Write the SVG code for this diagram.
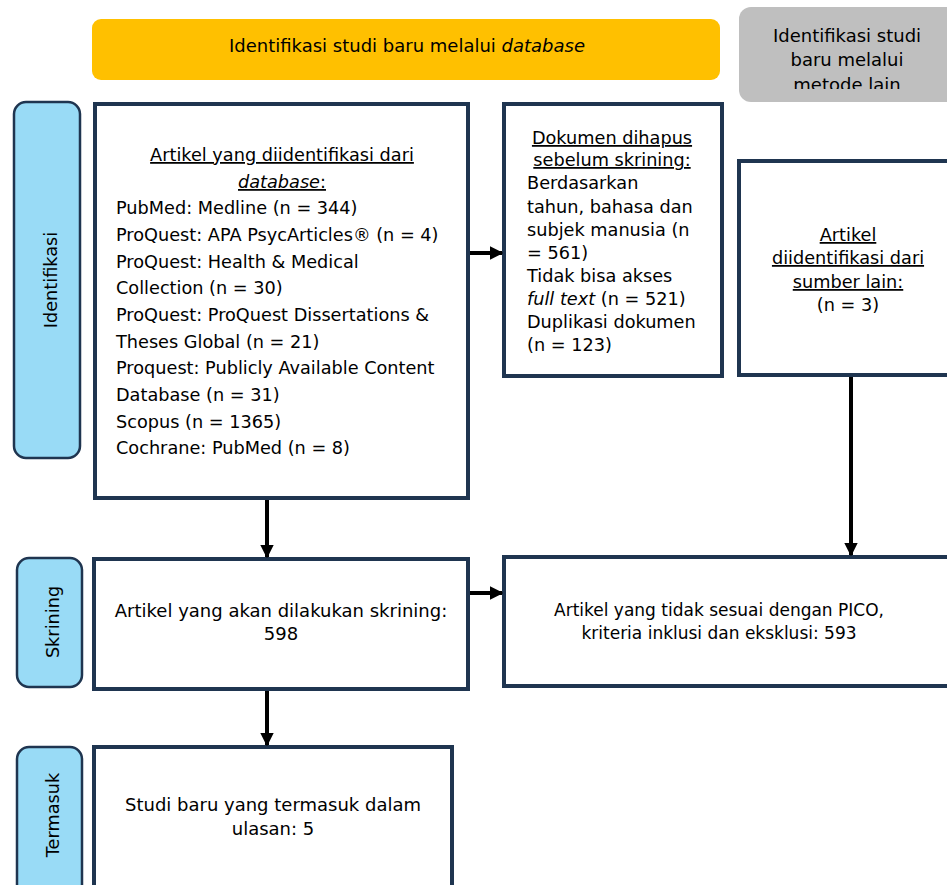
<svg xmlns="http://www.w3.org/2000/svg" width="947" height="885" viewBox="0 0 947 885">
<style>
text{font-family:"DejaVu Sans","Liberation Sans",sans-serif;font-size:17.7px;fill:#000}
.big{font-size:18px}
.box{fill:#fff;stroke:#1F3550;stroke-width:4}
.tab{fill:#99DBF6;stroke:#1F3550;stroke-width:2.5}
.c{text-anchor:middle}
.u{text-decoration:underline}
.con{stroke:#000;stroke-width:4;fill:none;marker-end:url(#ah)}
</style>
<defs>
<marker id="ah" viewBox="0 0 10 10" refX="9" refY="5" markerWidth="3.4" markerHeight="3.4" orient="auto" markerUnits="strokeWidth">
<path d="M0,0 L10,5 L0,10 Z" fill="#000"/>
</marker>
<clipPath id="gclip"><rect x="739" y="7" width="208" height="82"/></clipPath>
</defs>

<g id="header-db">
<rect x="92" y="19" width="628" height="61" rx="9" fill="#FFC000"/>
<text class="c big" x="407" y="52">Identifikasi studi baru melalui <tspan font-style="italic">database</tspan></text>
</g>

<g id="header-other">
<rect x="739" y="7" width="220" height="95" rx="12" fill="#BFBFBF"/>
<g clip-path="url(#gclip)">
<text class="c big" x="847" y="42">Identifikasi studi</text>
<text class="c big" x="847" y="66">baru melalui</text>
<text class="c big" x="847" y="91">metode lain</text>
</g>
</g>

<g id="tab-identifikasi">
<rect class="tab" x="14" y="102" width="66" height="356" rx="12"/>
<text class="c" transform="translate(57,280) rotate(-90)">Identifikasi</text>
</g>
<g id="tab-skrining">
<rect class="tab" x="17" y="558" width="65" height="129" rx="12"/>
<text class="c" transform="translate(59,622) rotate(-90)">Skrining</text>
</g>
<g id="tab-termasuk">
<rect class="tab" x="17" y="747" width="65" height="150" rx="12"/>
<text class="c" transform="translate(59,815) rotate(-90)">Termasuk</text>
</g>

<g id="box-database">
<rect class="box" x="95" y="104" width="373" height="394"/>
<text class="c u" x="282" y="161">Artikel yang diidentifikasi dari</text>
<text class="c u" x="282" y="188"><tspan font-style="italic">database</tspan>:</text>
<text x="116" y="214">PubMed: Medline (n = 344)</text>
<text x="116" y="241">ProQuest: APA PsycArticles® (n = 4)</text>
<text x="116" y="268">ProQuest: Health &amp; Medical</text>
<text x="116" y="294">Collection (n = 30)</text>
<text x="116" y="321">ProQuest: ProQuest Dissertations &amp;</text>
<text x="116" y="348">Theses Global (n = 21)</text>
<text x="116" y="374">Proquest: Publicly Available Content</text>
<text x="116" y="401">Database (n = 31)</text>
<text x="116" y="428">Scopus (n = 1365)</text>
<text x="116" y="454">Cochrane: PubMed (n = 8)</text>
</g>

<g id="box-dihapus">
<rect class="box" x="504" y="104" width="218" height="272"/>
<text class="c u" x="612" y="144">Dokumen dihapus</text>
<text class="c u" x="612" y="166">sebelum skrining:</text>
<text x="527" y="189">Berdasarkan</text>
<text x="527" y="213">tahun, bahasa dan</text>
<text x="527" y="236">subjek manusia (n</text>
<text x="527" y="259">= 561)</text>
<text x="527" y="282">Tidak bisa akses</text>
<text x="527" y="305"><tspan font-style="italic">full text</tspan> (n = 521)</text>
<text x="527" y="328">Duplikasi dokumen</text>
<text x="527" y="351">(n = 123)</text>
</g>

<g id="box-lain">
<rect class="box" x="739" y="161" width="215" height="214"/>
<text class="c u" x="848" y="241">Artikel</text>
<text class="c u" x="848" y="264">diidentifikasi dari</text>
<text class="c u" x="848" y="288">sumber lain:</text>
<text class="c" x="848" y="311">(n = 3)</text>
</g>

<g id="box-skrining">
<rect class="box" x="94" y="559" width="374" height="130"/>
<text class="c big" x="281" y="617">Artikel yang akan dilakukan skrining:</text>
<text class="c big" x="281" y="640">598</text>
</g>

<g id="box-pico">
<rect class="box" x="504" y="557" width="450" height="129"/>
<text class="c" x="719" y="616" style="font-size:17px">Artikel yang tidak sesuai dengan PICO,</text>
<text class="c" x="719" y="639" style="font-size:17px">kriteria inklusi dan eksklusi: 593</text>
</g>

<g id="box-termasuk">
<rect class="box" x="94" y="747" width="358" height="150"/>
<text class="c big" x="273" y="811">Studi baru yang termasuk dalam</text>
<text class="c big" x="273" y="835">ulasan: 5</text>
</g>

<g id="connectors">
<line class="con" x1="267" y1="500" x2="267" y2="557"/>
<line class="con" x1="470" y1="253" x2="502" y2="253"/>
<line class="con" x1="851" y1="377" x2="851" y2="555"/>
<line class="con" x1="470" y1="593" x2="502" y2="593"/>
<line class="con" x1="267" y1="691" x2="267" y2="745"/>
</g>
</svg>
